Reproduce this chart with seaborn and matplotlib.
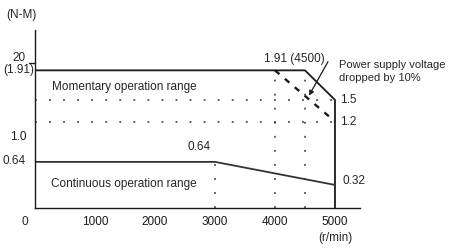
import matplotlib
matplotlib.use("Agg")
import matplotlib.pyplot as plt
import seaborn as sns

# Datos de la curva par-velocidad
speed_momentary = [0, 4500, 5000, 5000]
torque_momentary = [1.91, 1.91, 1.5, 0]
speed_continuous = [0, 3000, 5000]
torque_continuous = [0.64, 0.64, 0.32]
speed_dropped = [4000, 5000]
torque_dropped = [1.91, 1.2]

# Lineas guia punteadas
guide_h_levels = [1.5, 1.2]
guide_v_speeds = [3000, 4000, 4500]
guide_v_tops = [0.64, 1.91, 1.91]

x_ticks = [1000, 2000, 3000, 4000, 5000]

sns.set_style("white")
plt.rcParams["font.family"] = ["Liberation Sans", "DejaVu Sans"]

fig = plt.figure(figsize=(4.5, 2.48), dpi=100)
ax = fig.add_axes([35 / 450, 1 - 208 / 248, 325 / 450, 178 / 248])

dark = "#1a1a1a"
dot = (0, (1.2, 8))
for y in guide_h_levels:
    sns.lineplot(x=[0, 5000], y=[y, y], ax=ax, color="#333333", lw=1.1, linestyle=dot,
                 estimator=None)
for xv, top in zip(guide_v_speeds, guide_v_tops):
    sns.lineplot(x=[xv, xv], y=[0, top], ax=ax, color="#333333", lw=1.1, linestyle=dot,
                 estimator=None, sort=False)

sns.lineplot(x=speed_momentary, y=torque_momentary, ax=ax, sort=False, estimator=None,
             color=dark, lw=1.3)
sns.lineplot(x=speed_continuous, y=torque_continuous, ax=ax, sort=False, estimator=None,
             color="#333333", lw=1.3)
sns.lineplot(x=speed_dropped, y=torque_dropped, ax=ax, sort=False, estimator=None,
             color=dark, lw=1.7, linestyle=(0, (2.5, 3)))

ax.set_xlim(0, 5417)
ax.set_ylim(0, 2.47)
sns.despine(ax=ax)
for s in ["left", "bottom"]:
    ax.spines[s].set_color(dark)
    ax.spines[s].set_linewidth(1.0)

fs = 8.5
ax.set_xticks(x_ticks)
ax.set_xticklabels([str(t) for t in x_ticks])
ax.tick_params(axis="x", direction="in", length=3, width=1, pad=6, colors=dark, labelsize=fs)
ax.set_yticks([1.0])
ax.set_yticklabels(["1.0"])
ax.tick_params(axis="y", direction="out", length=4, width=1, pad=2, colors=dark, labelsize=fs)
ax.set_xlabel("")
ax.set_ylabel("")

ax.text(-167, -0.19, "0", fontsize=fs, ha="center", va="center")
ax.text(5000, -0.42, "(r/min)", fontsize=fs, ha="center", va="center")
ax.text(-233, 2.68, "(N-M)", fontsize=fs, ha="center", va="center")
ax.text(-160, 2.08, "20", fontsize=fs, ha="right", va="center")
ax.plot([-100, 0], [2.01, 2.01], color=dark, lw=1, clip_on=False)
ax.text(-15, 1.91, "(1.91)", fontsize=fs, ha="right", va="center")
ax.text(-350, 0.65, "0.64", fontsize=fs, ha="center", va="center")

ax.text(1483, 1.68, "Momentary operation range", fontsize=fs, ha="center", va="center")
ax.text(1483, 0.33, "Continuous operation range", fontsize=fs, ha="center", va="center")
ax.text(2920, 0.84, "0.64", fontsize=fs, ha="right", va="center")
ax.text(4325, 2.07, "1.91 (4500)", fontsize=fs, ha="center", va="center")
ax.text(5083, 1.5, "1.5", fontsize=fs, ha="left", va="center")
ax.text(5083, 1.2, "1.2", fontsize=fs, ha="left", va="center")
ax.text(5133, 0.375, "0.32", fontsize=fs, ha="left", va="center")
ax.text(5075, 1.89, "Power supply voltage\ndropped by 10%", fontsize=8,
        ha="left", va="center", linespacing=1.4)
ax.annotate("", xy=(4567, 1.56), xytext=(4883, 2.03),
            arrowprops=dict(arrowstyle="-|>", color=dark, lw=0.9,
                            shrinkA=0, shrinkB=0, mutation_scale=7))

fig.savefig("out.png", dpi=100)
